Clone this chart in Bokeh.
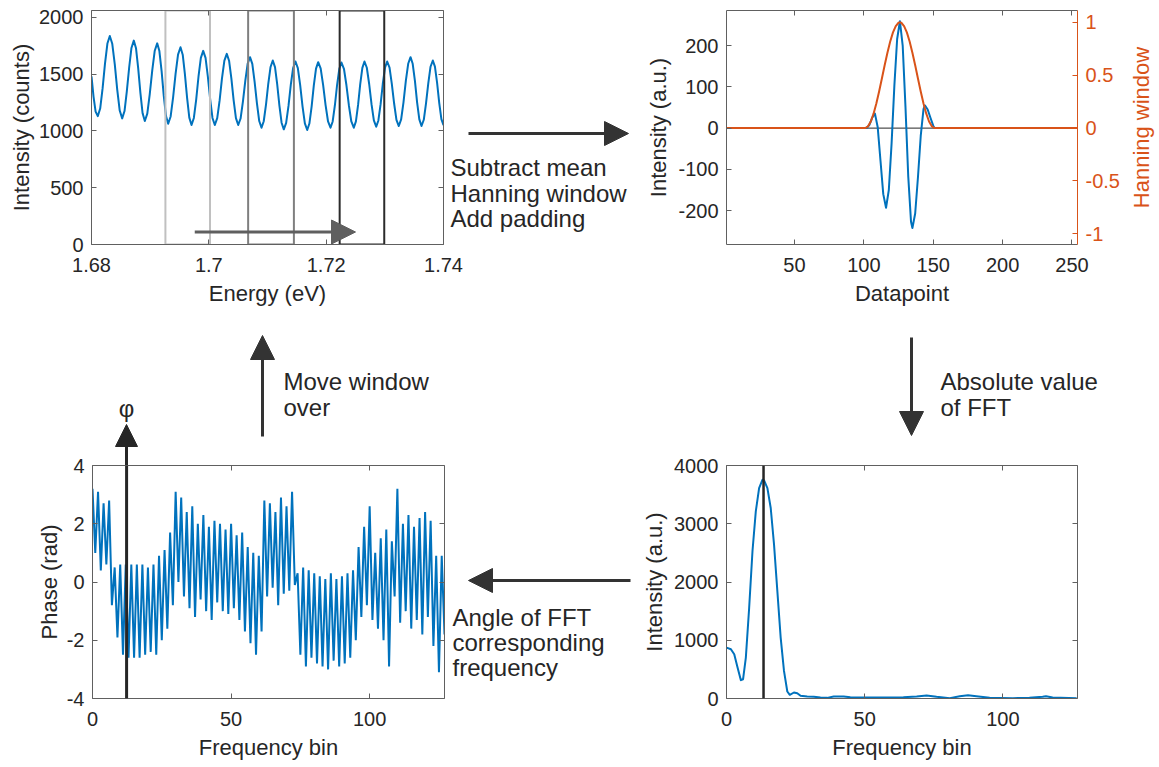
import math
from bokeh.plotting import figure
from bokeh.models import Range1d, LinearAxis, FixedTicker, Arrow, NormalHead, Label, Span
from bokeh.layouts import column, row, Spacer
from bokeh.embed import file_html
from bokeh.resources import INLINE

FONT = "Liberation Sans"
TXT = "#262626"
AXC = "#606060"
DARK = "#333333"
BLUE = "#0072BD"
ORANGE = "#D95319"

# ---------------- data ----------------
# Panel A: raw spectrum
energy = [1.68000, 1.68035, 1.68070, 1.68107,
          1.68148, 1.68189, 1.68230, 1.68271, 1.68312,
          1.68354, 1.68397, 1.68439, 1.68481, 1.68523,
          1.68563, 1.68602, 1.68642, 1.68681, 1.68721,
          1.68759, 1.68796, 1.68834, 1.68871, 1.68909,
          1.68951, 1.68993, 1.69036, 1.69078, 1.69120,
          1.69157, 1.69195, 1.69232, 1.69270, 1.69307,
          1.69349, 1.69391, 1.69433, 1.69475, 1.69517,
          1.69555, 1.69592, 1.69630, 1.69667, 1.69705,
          1.69745, 1.69785, 1.69824, 1.69864, 1.69904,
          1.69944, 1.69983, 1.70023, 1.70062, 1.70102,
          1.70143, 1.70184, 1.70224, 1.70265, 1.70306,
          1.70345, 1.70384, 1.70423, 1.70462, 1.70501,
          1.70541, 1.70581, 1.70622, 1.70662, 1.70702,
          1.70741, 1.70780, 1.70820, 1.70859, 1.70898,
          1.70936, 1.70975, 1.71013, 1.71052, 1.71090,
          1.71128, 1.71165, 1.71203, 1.71240, 1.71278,
          1.71318, 1.71358, 1.71397, 1.71437, 1.71477,
          1.71517, 1.71557, 1.71597, 1.71637, 1.71677,
          1.71714, 1.71752, 1.71789, 1.71827, 1.71864,
          1.71906, 1.71948, 1.71990, 1.72032, 1.72074,
          1.72111, 1.72149, 1.72186, 1.72224, 1.72261,
          1.72303, 1.72345, 1.72387, 1.72429, 1.72471,
          1.72507, 1.72544, 1.72580, 1.72617, 1.72653,
          1.72693, 1.72733, 1.72773, 1.72813, 1.72853,
          1.72890, 1.72928, 1.72965, 1.73003, 1.73040,
          1.73080, 1.73119, 1.73159, 1.73198, 1.73238,
          1.73278, 1.73318, 1.73358, 1.73398, 1.73438,
          1.73475, 1.73513, 1.73550, 1.73588, 1.73625,
          1.73664, 1.73702, 1.73741, 1.73779, 1.73818,
          1.73854, 1.73891, 1.73927, 1.73964, 1.74000]
counts = [1480, 1300, 1170, 1130,
          1197, 1374, 1592, 1769, 1836,
          1767, 1585, 1361, 1179, 1110,
          1175, 1347, 1558, 1730, 1795,
          1727, 1550, 1332, 1155, 1087,
          1152, 1323, 1535, 1706, 1771,
          1703, 1526, 1308, 1131, 1063,
          1127, 1296, 1503, 1672, 1736,
          1671, 1500, 1288, 1117, 1052,
          1114, 1278, 1479, 1643, 1705,
          1643, 1479, 1278, 1114, 1052,
          1112, 1268, 1462, 1618, 1678,
          1618, 1462, 1268, 1112, 1052,
          1109, 1258, 1443, 1592, 1649,
          1590, 1434, 1243, 1087, 1028,
          1085, 1233, 1415, 1563, 1620,
          1562, 1411, 1223, 1072, 1014,
          1071, 1220, 1405, 1554, 1611,
          1553, 1403, 1216, 1066, 1008,
          1065, 1214, 1399, 1548, 1605,
          1550, 1406, 1227, 1083, 1028,
          1083, 1226, 1404, 1547, 1602,
          1547, 1404, 1226, 1083, 1028,
          1084, 1229, 1410, 1555, 1611,
          1556, 1413, 1235, 1092, 1037,
          1092, 1235, 1413, 1556, 1611,
          1557, 1415, 1239, 1097, 1043,
          1101, 1252, 1440, 1591, 1649,
          1591, 1440, 1252, 1101, 1043,
          1098, 1242, 1421, 1565, 1620,
          1566, 1423, 1247, 1104, 1050]
win_left = [1.6926, 1.7067, 1.7223]
win_right = [1.7002, 1.7145, 1.7299]
win_color = ["#c0c0c0", "#7f7f7f", "#2b2b2b"]
move_from, move_to, move_level = 1.6976, 1.7250, 110

# Panel B: windowed, padded signal
dp_x = [1, 102, 104, 106, 108, 110, 112, 114, 116, 118, 120, 122, 124, 126, 128,
        130, 132, 134, 135, 137, 139, 141, 143, 144, 146, 148, 150, 151, 254]
dp_y = [0, 0, 8, 25, 35, 2, -79, -160, -193, -150, -37, 103, 216, 259, 200,
        52, -117, -227, -242, -207, -119, -19, 46, 55, 45, 25, 6, 0, 0]
hann_x = [1, 101, 103, 105, 107, 109, 111, 113, 115, 117, 119, 121, 123, 125, 126,
          127, 129, 131, 133, 135, 137, 139, 141, 143, 145, 147, 149, 151, 254]
hann_y = [0, 0, 0.016, 0.062, 0.136, 0.232, 0.345, 0.469, 0.594, 0.713, 0.819, 0.905, 0.965, 0.996, 1.0,
          0.996, 0.965, 0.905, 0.819, 0.713, 0.594, 0.469, 0.345, 0.232, 0.136, 0.062, 0.016, 0, 0]

# Panel C: |FFT|
fbin = [0, 1.6, 2.8, 4.0, 5.2, 6.0, 7.0, 8.2, 9.4, 10.6, 11.8, 13.0, 13.6, 14.8, 16.0,
        17.2, 18.4, 19.6, 20.8, 22.0, 22.9, 24.4, 25.6, 26.8, 29.2, 31.6, 34.0, 36.4, 38.8, 42.4,
        44.8, 49.6, 56.8, 64.0, 68.8, 72.4, 76.0, 80.8, 84.4, 87.4, 90.4, 95.2, 103.6, 109.6, 114.4,
        115.6, 118.0, 126.7]
fft_abs = [873, 845, 759, 531, 314, 331, 702, 1558, 2528, 3212, 3612, 3755, 3743, 3612, 3270,
           2642, 1843, 1044, 474, 120, 63, 103, 91, 46, 34, 29, 17, 11, 34, 34,
           23, 17, 17, 23, 34, 51, 29, 6, 40, 57, 40, 11, 6, 11, 29,
           40, 17, 6]
peak_bin_c = 13.4

# Panel D: phase of FFT
phase_bin = list(range(128))
phase = [3.2, 1.0, 3.1, 0.4, 2.7, 0.6, 2.8, -0.8, 0.5, -1.9,
         0.6, -2.5, 0.6, -2.6, 0.6, -2.6, 0.6, -2.6, 0.6, -2.5,
         0.5, -2.4, 0.6, -2.5, 0.9, -2.0, 1.1, -1.6, 1.7, -0.8,
         3.1, 0.0, 2.9, -0.5, 2.4, -0.9, 2.6, -1.2, 2.0, -0.6,
         2.3, -1.0, 1.9, -1.3, 2.1, -0.7, 2.0, -1.0, 1.8, -1.1,
         2.0, -0.9, 1.6, -1.3, 1.7, -1.7, 1.2, -2.1, 1.0, -2.5,
         0.9, -1.7, 2.8, -0.5, 2.7, -0.2, 2.4, -0.8, 2.9, -0.4,
         2.6, -0.3, 3.1, -0.1, 0.3, -2.5, 0.5, -2.9, 0.4, -2.6,
         0.3, -2.8, 0.2, -2.9, 0.1, -3.0, 0.3, -2.7, 0.1, -2.9,
         0.2, -2.8, 0.3, -2.6, 0.4, -2.0, 1.2, -1.2, 1.9, -0.8,
         2.6, -1.3, 1.0, -1.6, 1.5, -2.0, 1.8, -2.9, 1.4, -0.5,
         3.2, -1.4, 2.0, -1.0, 2.3, -1.6, 1.9, -1.3, 2.2, -1.8,
         2.4, -1.2, 2.1, -2.2, 0.9, -3.1, 0.9, -1.8]
phi_bin = 12.3


# ---------------- helpers ----------------
def make_panel(width, height, xr, yr, borders):
    l, r, t, b = borders
    p = figure(width=width, height=height, x_range=Range1d(*xr), y_range=Range1d(*yr),
               output_backend="svg", toolbar_location=None, title=None,
               x_axis_location=None, y_axis_location=None,
               min_border_left=l, min_border_right=r, min_border_top=t, min_border_bottom=b)
    p.grid.visible = False
    p.outline_line_color = None
    p.border_fill_color = None
    p.background_fill_color = "white"
    return p


def add_axis(p, side, ticks, labels=None, title=None, color=TXT, line=AXC,
             range_name=None, standoff=8, label_standoff=4):
    kw = {}
    if range_name is not None:
        kw["y_range_name"] = range_name
    a = LinearAxis(ticker=FixedTicker(ticks=ticks), **kw)
    a.axis_line_color = line
    a.axis_line_width = 1
    a.major_tick_line_color = line
    a.major_tick_in = 5
    a.major_tick_out = 0
    a.minor_tick_line_color = None
    a.minor_tick_in = 0
    a.minor_tick_out = 0
    if labels is not None:
        a.major_label_overrides = {t: s for t, s in zip(ticks, labels)}
        a.major_label_text_font = FONT
        a.major_label_text_font_size = "20px"
        a.major_label_text_color = color
        a.major_label_standoff = standoff
    else:
        # mirrored box ticks only: labels switched off
        a.major_label_text_color = None
        a.major_label_standoff = 0
    if title is not None:
        a.axis_label = title
        a.axis_label_text_font = FONT
        a.axis_label_text_font_size = "22px"
        a.axis_label_text_font_style = "normal"
        a.axis_label_text_color = color
        a.axis_label_standoff = label_standoff
    p.add_layout(a, side)
    return a


# ---------------- Panel A ----------------
pA = make_panel(580, 310, (1.68, 1.74), (0, 2060), (91, 137, 9, 66))
pA.line(energy, counts, line_color=BLUE, line_width=2, line_join="round")
pA.quad(left=win_left, right=win_right, bottom=0, top=2060, fill_color=None,
        line_color=win_color, line_width=2)
pA.add_layout(Arrow(end=NormalHead(size=24, fill_color="#5f5f5f", line_color="#5f5f5f", line_width=1),
                    x_start=move_from, y_start=move_level, x_end=move_to, y_end=move_level,
                    line_color="#5f5f5f", line_width=3))
xa = [1.68, 1.70, 1.72, 1.74]
add_axis(pA, "below", xa, ["1.68", "1.7", "1.72", "1.74"], "Energy (eV)", standoff=13, label_standoff=6)
add_axis(pA, "above", xa)
ya = [0, 500, 1000, 1500, 2000]
add_axis(pA, "left", ya, ["0", "500", "1000", "1500", "2000"], "Intensity (counts)", standoff=8, label_standoff=2)
add_axis(pA, "right", ya)

# ---------------- Panel B ----------------
pB = make_panel(579, 310, (1, 254), (-282, 285), (146, 82, 10, 66))
pB.extra_y_ranges = {"hann": Range1d(-1.102, 1.112)}
pB.add_layout(Span(location=0, dimension="width", line_color=TXT, line_width=1, level="underlay"))
pB.line(dp_x, dp_y, line_color=BLUE, line_width=2, line_join="round")
pB.line(hann_x, hann_y, line_color=ORANGE, line_width=2, y_range_name="hann", line_join="round")
xb = [50, 100, 150, 200, 250]
add_axis(pB, "below", xb, [str(v) for v in xb], "Datapoint", standoff=13, label_standoff=6)
add_axis(pB, "above", xb)
yb = [-200, -100, 0, 100, 200]
add_axis(pB, "left", yb, ["-200", "-100", "0", "100", "200"], "Intensity (a.u.)", standoff=8, label_standoff=4)
yh = [-1, -0.5, 0, 0.5, 1]
add_axis(pB, "right", yh, ["-1", "-0.5", "0", "0.5", "1"], None, color=ORANGE, line=ORANGE,
         range_name="hann", standoff=8)

# ---------------- Panel D (phase) ----------------
pD = make_panel(580, 312, (0, 127), (-4, 4), (92, 136, 10, 69))
pD.line(phase_bin, phase, line_color=BLUE, line_width=2)
pD.add_layout(Span(location=phi_bin, dimension="height", line_color=TXT, line_width=3))
xd = [0, 50, 100]
add_axis(pD, "below", xd, ["0", "50", "100"], "Frequency bin", standoff=13, label_standoff=6)
add_axis(pD, "above", xd)
yd = [-4, -2, 0, 2, 4]
add_axis(pD, "left", yd, ["-4", "-2", "0", "2", "4"], "Phase (rad)", standoff=8, label_standoff=2)
add_axis(pD, "right", yd)

# ---------------- Panel C (|FFT|) ----------------
pC = make_panel(579, 312, (0, 127), (0, 4000), (146, 82, 10, 69))
pC.line(fbin, fft_abs, line_color=BLUE, line_width=2, line_join="round")
pC.add_layout(Span(location=peak_bin_c, dimension="height", line_color=TXT, line_width=2.5))
add_axis(pC, "below", xd, ["0", "50", "100"], "Frequency bin", standoff=13, label_standoff=6)
add_axis(pC, "above", xd)
yc = [0, 1000, 2000, 3000, 4000]
add_axis(pC, "left", yc, ["0", "1000", "2000", "3000", "4000"], "Intensity (a.u.)", standoff=8, label_standoff=4)
add_axis(pC, "right", yc)

# ---------------- background: arrows and captions ----------------
bg = figure(width=1159, height=767, x_range=Range1d(0, 1159), y_range=Range1d(767, 0),
            output_backend="svg", toolbar_location=None, title=None,
            x_axis_location=None, y_axis_location=None, min_border=0)
bg.grid.visible = False
bg.outline_line_color = None


def arrow(x0, y0, x1, y1, color=DARK, width=3, size=24):
    bg.add_layout(Arrow(end=NormalHead(size=size, fill_color=color, line_color=color, line_width=1),
                        x_start=x0, y_start=y0, x_end=x1, y_end=y1,
                        line_color=color, line_width=width))


def caption(x, y, text, size="24px", align="left", baseline="alphabetic", angle=0, color=TXT):
    bg.add_layout(Label(x=x, y=y, text=text, text_font=FONT, text_font_size=size,
                        text_color=color, text_align=align, text_baseline=baseline, angle=angle))


arrow(468, 133, 628, 133)
arrow(911, 337, 911, 435)
arrow(630, 580, 468, 580)
arrow(262, 436, 262, 335)
arrow(126, 470, 126, 424, color=TXT, width=3, size=22)
caption(126, 408, "φ", size="24px", align="center", baseline="middle")

caption(450, 167, "Subtract mean")
caption(450, 193, "Hanning window")
caption(450, 218, "Add padding")
caption(940, 381, "Absolute value")
caption(940, 407, "of FFT")
caption(283, 381, "Move window")
caption(283, 407, "over")
caption(452, 617, "Angle of FFT")
caption(452, 642, "corresponding")
caption(452, 667, "frequency")
caption(1141, 127, "Hanning window", size="22px", align="center", baseline="middle",
        angle=math.pi / 2, color=ORANGE)

# ---------------- layout ----------------
panels = column(row(pA, pB), Spacer(width=1159, height=145), row(pD, pC))
panels.margin = (-767, 0, 0, 0)
page = column(bg, panels)

open("out.html", "w").write(file_html(page, INLINE))
